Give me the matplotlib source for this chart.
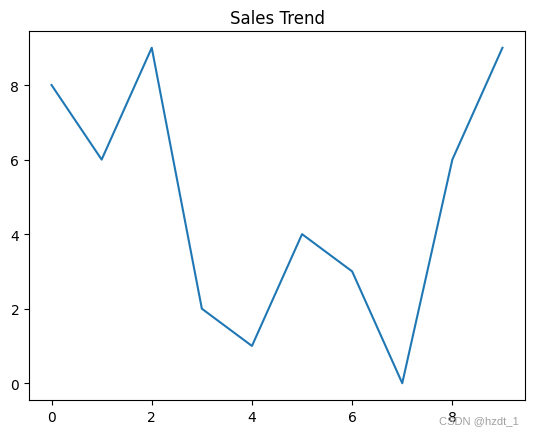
import matplotlib
matplotlib.use("Agg")
import matplotlib.pyplot as plt

x_vals = list(range(10))
sales = [8, 6, 9, 2, 1, 4, 3, 0, 6, 9]
title = "Sales Trend"
watermark = "CSDN @hzdt_1"

fig = plt.figure(figsize=(5.34, 4.35), dpi=100)
ax = fig.add_axes([29/534, 34/435, 496/534, 369/435])
ax.plot(x_vals, sales, color="#1f77b4")
ax.set_title(title)
fig.text(519/534, 1 - 421/435, watermark, ha="right", va="center",
         fontsize=8, color="#a0a0a0", family=["Liberation Sans", "DejaVu Sans"])
fig.savefig("out.png", dpi=100)
